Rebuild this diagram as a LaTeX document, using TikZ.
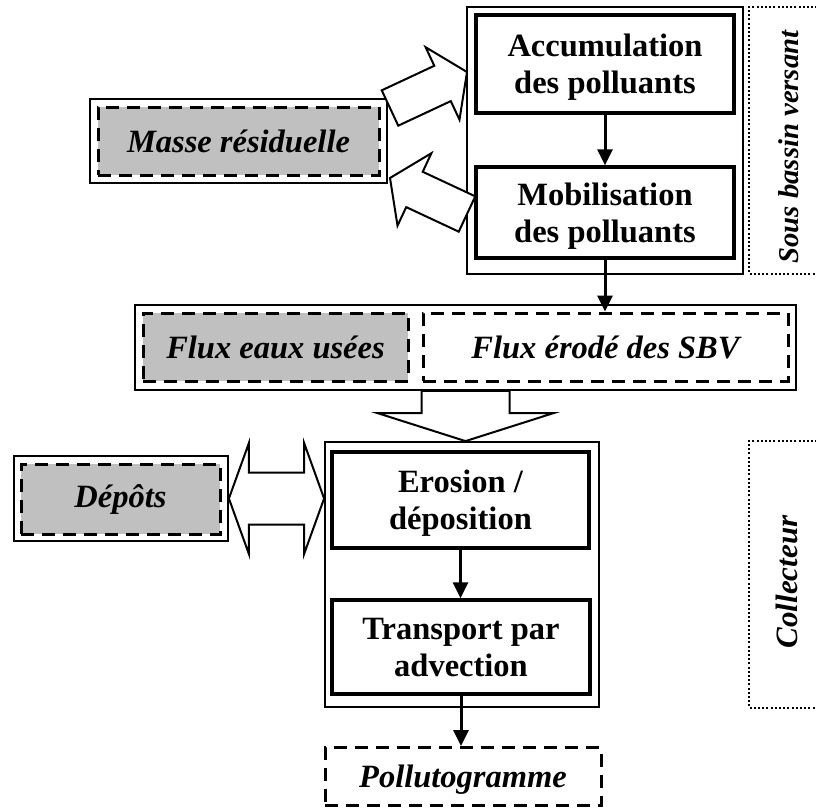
\documentclass[tikz,border=0pt]{standalone}
\usepackage{fontspec}
\setmainfont{Liberation Serif}
\usetikzlibrary{calc,arrows.meta}
\definecolor{boxgray}{RGB}{192,192,192}
\def\fatarrow(#1)(#2)#3#4#5{\coordinate (fb) at ($(#2)!#5!(#1)$);
	\draw[fatline] ($(#1)!#3!90:(#2)$) -- ($(fb)!#3!90:(#2)$) -- ($(fb)!#4!90:(#2)$) -- (#2) -- ($(fb)!#4!-90:(#2)$) -- ($(fb)!#3!-90:(#2)$) -- ($(#1)!#3!-90:(#2)$) -- cycle;}
\def\fatdarrow(#1)(#2)#3#4#5{\coordinate (fa) at ($(#1)!#5!(#2)$); \coordinate (fb) at ($(#2)!#5!(#1)$);
	\draw[fatline] (#1) -- ($(fa)!#4!90:(#2)$) -- ($(fa)!#3!90:(#2)$) -- ($(fb)!#3!90:(#2)$) -- ($(fb)!#4!90:(#2)$) -- (#2) -- ($(fb)!#4!-90:(#2)$) -- ($(fb)!#3!-90:(#2)$) -- ($(fa)!#3!-90:(#2)$) -- ($(fa)!#4!-90:(#2)$) -- cycle;}
\tikzset{
	outerbox/.style={draw, line width=1.8pt, inner sep=0pt},
	procbox/.style={draw, line width=3.3pt, inner sep=0pt, align=center, text depth=-1pt, font=\fontsize{32.5}{37}\selectfont\bfseries},
	dashbox/.style={draw, line width=3pt, dash pattern=on 13pt off 8pt, inner sep=0pt, font=\fontsize{32.5}{37}\selectfont\bfseries\itshape},
	graybox/.style={dashbox, fill=boxgray},
	sidebox/.style={line width=2pt, dash pattern=on 2pt off 2.2pt},
	sidelabel/.style={rotate=90, inner sep=0pt, font=\bfseries\itshape},
	flow/.style={line width=3pt, -{Triangle[length=16pt,width=15pt]}},
	fatline/.style={draw, fill=white, line width=2pt, line join=miter}
}
\begin{document}
\begin{tikzpicture}[x=1pt, y=-1pt]
		%%%%% START %%%%%
		\clip (0,0) rectangle (816,809);
		
		% sous bassin versant
		\node[outerbox, minimum width=276pt, minimum height=267pt] (sbvout) at (605,140.5) {};
		\node[procbox, minimum width=258pt, minimum height=98pt] (accu) at (605,64) {Accumulation\\des polluants};
		\node[procbox, minimum width=258pt, minimum height=91pt] (mobil) at (605,212.5) {Mobilisation\\des polluants};
		\draw[flow] (accu.south) -- (mobil.north);
		\draw[sidebox] (830,7) -- (749,7) -- (749,274) -- (830,274);
		\node[sidelabel, font=\fontsize{28.7}{34}\selectfont\bfseries\itshape] (sbvlabel) at (789,147) {Sous bassin versant};
		
		% masse residuelle
		\node[outerbox, minimum width=297pt, minimum height=84pt] (masseout) at (238.5,141) {};
		\node[graybox, minimum width=281pt, minimum height=68pt] (masse) at (238.5,141) {Masse résiduelle};
		\coordinate (m1) at (390,108);
		\coordinate (m2) at (467,72);
		\coordinate (m3) at (467,214);
		\coordinate (m4) at (390,178);
		\fatarrow(m1)(m2){19.5pt}{40pt}{27pt}
		\fatarrow(m3)(m4){19.5pt}{40pt}{27pt}
		
		% flux
		\node[outerbox, minimum width=661pt, minimum height=85pt] (fluxout) at (465.5,347.5) {};
		\node[graybox, minimum width=265pt, minimum height=68pt] (fluxeu) at (275.5,347) {Flux eaux usées};
		\node[dashbox, minimum width=365pt, minimum height=68pt] (fluxsbv) at (605.5,347) {Flux érodé des SBV};
		\draw[flow] (mobil.south) -- (mobil.south |- fluxsbv.north);
		
		% collecteur
		\node[outerbox, minimum width=274pt, minimum height=265pt] (collout) at (462,574.5) {};
		\node[procbox, minimum width=257pt, minimum height=96pt] (eros) at (460.5,500) {Erosion /\\déposition};
		\node[procbox, text depth=-8pt, minimum width=258pt, minimum height=94pt] (transp) at (461,647) {Transport par\\advection};
		\draw[flow] (eros.south) -- (eros.south |- transp.north);
		\draw[sidebox] (830,441) -- (749,441) -- (749,708) -- (830,708);
		\node[sidelabel, font=\fontsize{31}{35.5}\selectfont\bfseries\itshape] (colllabel) at (787,582) {Collecteur};
		
		\coordinate (f2) at (fluxout.south |- collout.north);
		\fatarrow(fluxout.south)(f2){44pt}{88pt}{28pt}
		
		% depots
		\node[outerbox, minimum width=214pt, minimum height=85pt] (depout) at (121,498.5) {};
		\node[graybox, minimum width=199pt, minimum height=70pt] (depots) at (120.5,499) {Dépôts};
		\coordinate (d2) at (collout.west |- depout.east);
		\fatdarrow(depout.east)(d2){26pt}{55.5pt}{20pt}
		
		% pollutogramme
		\node[dashbox, text depth=0pt, minimum width=276pt, minimum height=58pt] (poll) at (463,776.5) {Pollutogramme};
		\draw[flow] (transp.south) -- (transp.south |- poll.north);
		
		%%%%% END %%%%%
	\end{tikzpicture}
\end{document}
